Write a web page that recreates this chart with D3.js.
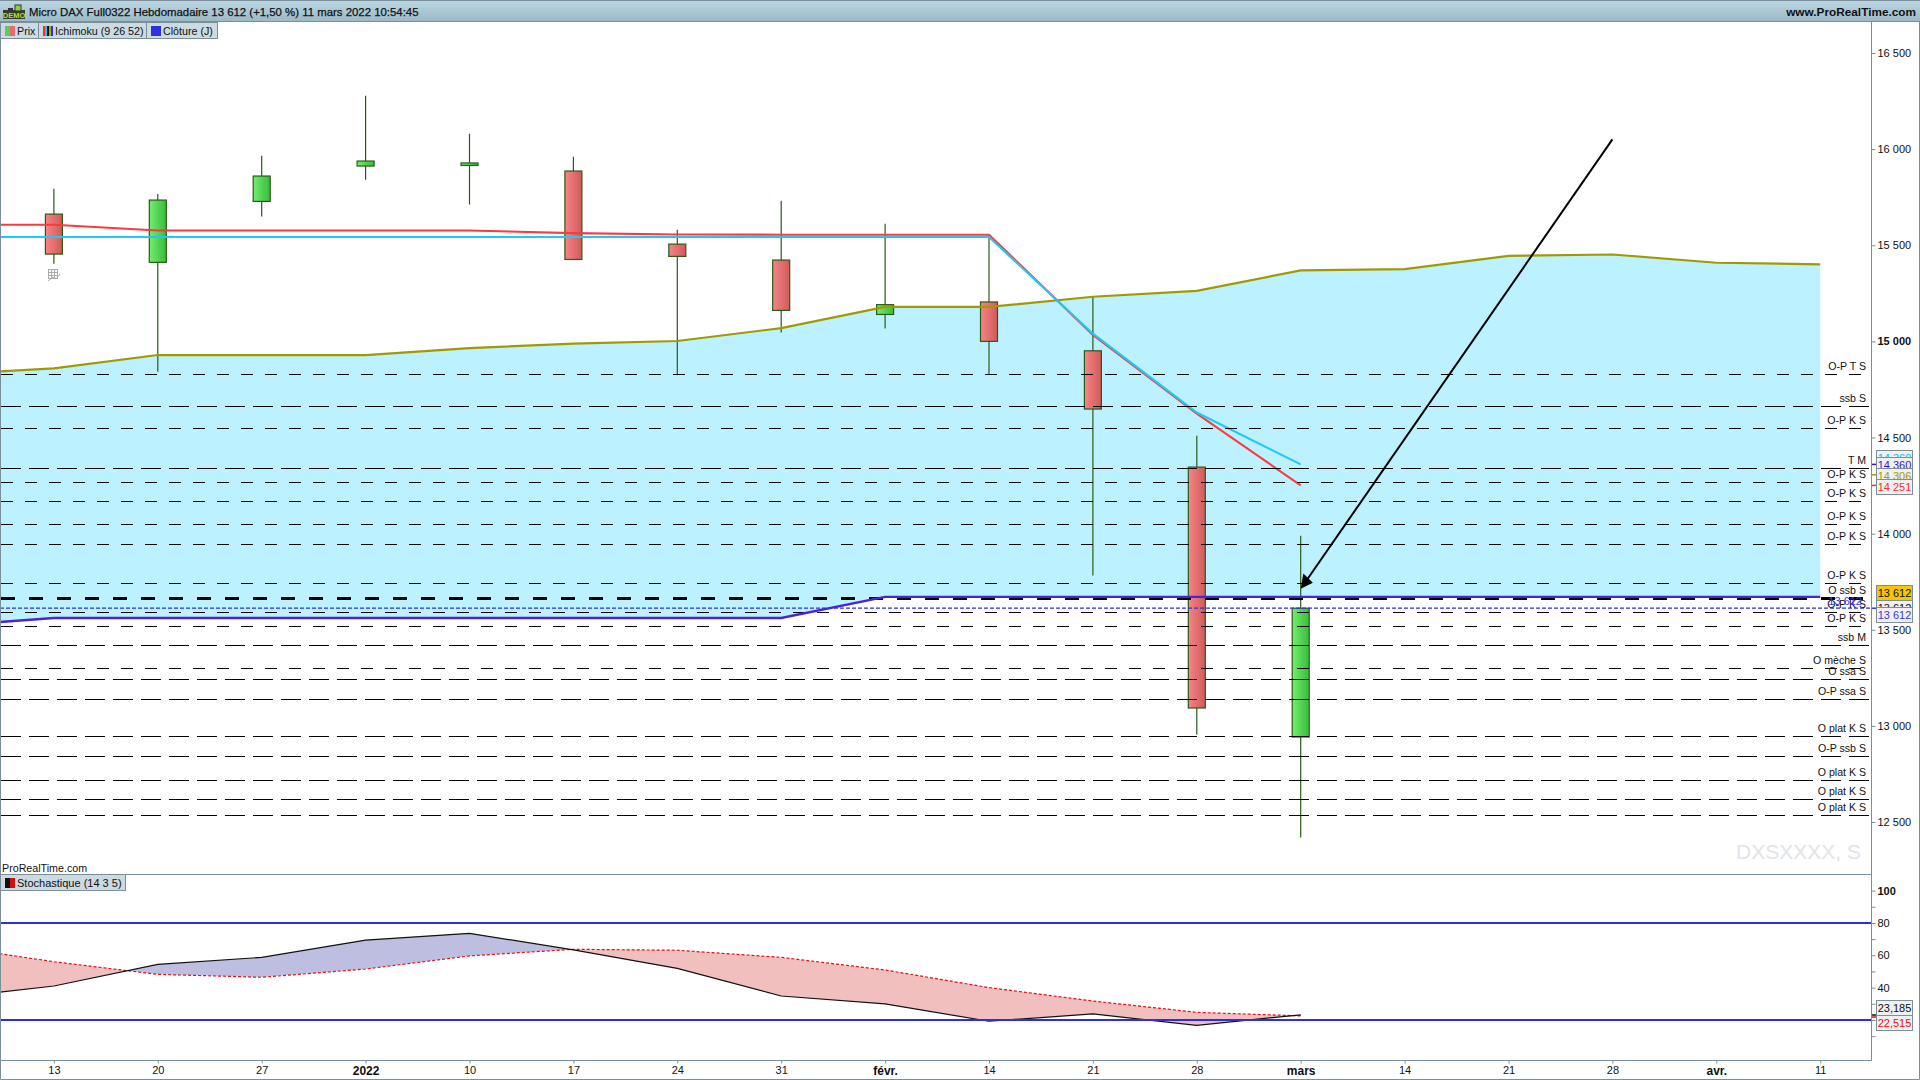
<!DOCTYPE html>
<html>
<head>
<meta charset="utf-8">
<title>Micro DAX Full0322</title>
<script src="https://cdn.jsdelivr.net/npm/d3@7/dist/d3.min.js"></script>
<style>
  html, body { margin: 0; padding: 0; background: #fff; overflow: hidden; }
  text { font-family: "Liberation Sans", Arial, sans-serif; }
</style>
</head>
<body>
<svg id="chart" width="1920" height="1080"></svg>
<script>
// weeks, the first one is off the left edge of the chart
const weeks = ['2021-12-06', '2021-12-13', '2021-12-20', '2021-12-27', '2022-01-03', '2022-01-10', '2022-01-17',
  '2022-01-24', '2022-01-31', '2022-02-07', '2022-02-14', '2022-02-21', '2022-02-28', '2022-03-07',
  '2022-03-14', '2022-03-21', '2022-03-28', '2022-04-04', '2022-04-11'];
const weekLabels = ['13', '20', '27', '2022', '10', '17', '24', '31', 'févr.', '14', '21', '28', 'mars', '14', '21', '28', 'avr.', '11'];
const boldLabels = ['2022', 'févr.', 'mars', 'avr.'];

// candles, 13 Dec to 7 Mar
const opens = [15662, 15411, 15728, 15912, 15915, 15886, 15506, 15423, 15140, 15205, 14951, 14346, 12942];
const highs = [15794, 15766, 15966, 16278, 16080, 15960, 15581, 15731, 15612, 15551, 15231, 14509, 13989];
const lows = [15404, 14842, 15650, 15841, 15712, 15426, 14828, 15046, 15067, 14828, 13782, 12955, 12420];
const closes = [15454, 15735, 15860, 15938, 15928, 15426, 15442, 15161, 15191, 15000, 14648, 13093, 13612];

// ichimoku
const tenkan = [15607, 15607, 15577, 15577, 15577, 15577, 15563, 15556, 15555, 15555, 15555, 15034, 14624, 14251];
const kijun = [15543, 15543, 15543, 15543, 15543, 15543, 15543, 15543, 15543, 15543, 15543, 15040, 14630, 14360];
const spanB = [14830, 14860, 14929, 14929, 14929, 14965, 14988, 15002, 15069, 15179, 15179, 15232, 15263, 15369, 15376, 15445, 15452, 15409, 15401];
const spanA = [13521, 13561, 13561, 13561, 13561, 13561, 13561, 13561, 13561, 13671, 13671, 13671, 13671, 13671, 13671, 13671, 13671, 13671, 13671];

// horizontal levels
const levelValues = [14832, 14664, 14551, 14341, 14268, 14169, 14050, 13947, 13743, 13665, 13592, 13521, 13422, 13299, 13244, 13140, 12947, 12843, 12718, 12619, 12536];
const levelLabels = ['O-P T S', 'ssb S', 'O-P K S', 'T M', 'O-P K S', 'O-P K S', 'O-P K S', 'O-P K S', 'O-P K S', 'O ssb S', 'O-P K S', 'O-P K S', 'ssb M', 'O mèche S', 'O ssa S', 'O-P ssa S', 'O plat K S', 'O-P ssb S', 'O plat K S', 'O plat K S', 'O plat K S'];
const lastClose = 13612;
const priceTicks = [12500, 13000, 13500, 14000, 14500, 15000, 15500, 16000, 16500];

// hand drawn arrow
const arrowWeeks = ['2022-03-28', '2022-03-07'];
const arrowPrices = [16051, 13713];

// stochastic
const stochK = [33.6, 41.0, 54.4, 58.7, 69.4, 73.6, 63.3, 51.9, 34.8, 29.9, 19.2, 23.7, 16.7, 23.185];
const stochD = [65.6, 56.0, 48.2, 46.4, 51.5, 59.6, 63.7, 63.1, 58.7, 50.9, 40.0, 31.7, 24.7, 22.515];
const stochBands = [80, 20];
const stochTicks = [10, 20, 30, 40, 50, 60, 70, 80, 90, 100];
const stochLabels = [40, 60, 80, 100];

const svg = d3.select('#chart');
const greyLine = '#7b8f9a';
const wickColor = '#2a5a18';

const x = d3.scalePoint().domain(weeks).range([-50, 1820.2]);
const y = d3.scaleLinear().domain([12500, 16500]).range([822, 53]);
const yStoch = d3.scaleLinear().domain([0, 100]).range([1052.3, 890.6]);

const fr = d3.formatLocale({ decimal: ',', thousands: ' ', grouping: [3], currency: ['', '€'] });
const priceFormat = fr.format(',d');

// gradients
const defs = svg.append('defs');
function gradient(id, vertical, from, to) {
  const g = defs.append('linearGradient').attr('id', id)
    .attr('x1', 0).attr('y1', 0).attr('x2', vertical ? 0 : 1).attr('y2', vertical ? 1 : 0);
  g.append('stop').attr('offset', 0).attr('stop-color', from);
  g.append('stop').attr('offset', 1).attr('stop-color', to);
}
gradient('titleGrad', true, '#bcd7e4', '#9cb9c6');
gradient('upGrad', false, '#72ee6e', '#38bb3c');
gradient('downGrad', false, '#f78585', '#cf5a5a');

defs.append('clipPath').attr('id', 'mainClip').append('rect')
  .attr('x', 0).attr('y', 22).attr('width', 1871).attr('height', 852);

// cloud
const main = svg.append('g').attr('clip-path', 'url(#mainClip)');
main.append('path')
  .datum(weeks)
  .attr('fill', '#bcf2ff')
  .attr('d', d3.area()
    .x(d => x(d))
    .y0((d, i) => y(spanA[i]))
    .y1((d, i) => y(spanB[i])));

// candles
const candles = main.append('g').selectAll('g')
  .data(opens.map((o, i) => ({ week: weeks[i + 1], open: o, high: highs[i], low: lows[i], close: closes[i] })))
  .join('g');
candles.append('line')
  .attr('x1', d => x(d.week)).attr('x2', d => x(d.week))
  .attr('y1', d => y(d.high)).attr('y2', d => y(d.low))
  .attr('stroke', wickColor).attr('stroke-width', 1.2);
candles.append('rect')
  .attr('x', d => x(d.week) - 8.5)
  .attr('width', 17)
  .attr('y', d => y(Math.max(d.open, d.close)))
  .attr('height', d => Math.abs(y(d.open) - y(d.close)))
  .attr('fill', d => d.close >= d.open ? 'url(#upGrad)' : 'url(#downGrad)')
  .attr('stroke', wickColor).attr('stroke-width', 1.2);

// ichimoku lines
function priceLine(values, color, width) {
  main.append('path')
    .datum(values)
    .attr('fill', 'none')
    .attr('stroke', color)
    .attr('stroke-width', width)
    .attr('d', d3.line().x((d, i) => x(weeks[i])).y(d => y(d)));
}
priceLine(spanB, '#a09a00', 2.2);
priceLine(tenkan, '#fb3a3f', 2.1);
priceLine(kijun, '#22c8f4', 2.1);

// levels, dashes go over the candles
function isShort(label) { return /O-P [TK]|mèche/.test(label); }
main.append('g').selectAll('line')
  .data(levelValues)
  .join('line')
  .attr('x1', 1).attr('x2', 1869)
  .attr('y1', d => Math.round(y(d)) + 0.5).attr('y2', d => Math.round(y(d)) + 0.5)
  .attr('stroke', '#000')
  .attr('stroke-width', (d, i) => levelLabels[i] === 'O ssb S' ? 3 : 1)
  .attr('stroke-dasharray', (d, i) => levelLabels[i] === 'O ssb S' ? '14,14' : (isShort(levelLabels[i]) ? '12,12' : '20,8'))
  .attr('shape-rendering', 'crispEdges');

priceLine(spanA, '#4a22d8', 2.4);

// last close, dotted
main.append('line')
  .attr('x1', 0).attr('x2', 1872)
  .attr('y1', y(lastClose)).attr('y2', y(lastClose))
  .attr('stroke', '#3030e0').attr('stroke-width', 1.2).attr('stroke-dasharray', '4,2');

// arrow
const tipX = x(arrowWeeks[1]), tipY = y(arrowPrices[1]);
const angle = Math.atan2(y(arrowPrices[0]) - tipY, x(arrowWeeks[0]) - tipX);
main.append('line')
  .attr('x1', x(arrowWeeks[0])).attr('y1', y(arrowPrices[0]))
  .attr('x2', tipX + 8 * Math.cos(angle)).attr('y2', tipY + 8 * Math.sin(angle))
  .attr('stroke', '#000').attr('stroke-width', 2);
main.append('path')
  .attr('transform', `translate(${tipX},${tipY}) rotate(${angle * 180 / Math.PI})`)
  .attr('d', 'M0,0L14,-6.5L12,6.5Z')
  .attr('fill', '#000');

// level labels
main.append('g').selectAll('text')
  .data(levelLabels)
  .join('text')
  .attr('x', 1866)
  .attr('y', (d, i) => y(levelValues[i]) - 4)
  .attr('text-anchor', 'end')
  .attr('font-size', 10.6)
  .attr('fill', '#111')
  .text(d => d);
main.append('text')
  .attr('x', 1862).attr('y', y(lastClose) - 3)
  .attr('text-anchor', 'end').attr('font-size', 11).attr('fill', '#3a3ae0')
  .text(priceFormat(lastClose));

// watermark and small texts
svg.append('text').attr('x', 1861).attr('y', 859).attr('text-anchor', 'end')
  .attr('font-size', 21).attr('fill', '#e1e4ec').text('DXSXXXX, S');
svg.append('text').attr('x', 2).attr('y', 872).attr('font-size', 10.7).attr('fill', '#111').text('ProRealTime.com');

// calendar icon under the first candle
const icon = svg.append('g').attr('transform', 'translate(48,268)')
  .attr('fill', 'none').attr('stroke', '#aaa').attr('stroke-width', 1);
icon.append('rect').attr('x', 0.5).attr('y', 1.5).attr('width', 9).attr('height', 9);
icon.append('path').attr('d', 'M0.5,4.5H9.5M0.5,7.5H9.5M3.5,1.5V10.5M6.5,1.5V10.5M0,13L5,9L8,11L12,6');

// stochastic panel
svg.append('line').attr('x1', 0).attr('x2', 1871).attr('y1', 874.5).attr('y2', 874.5).attr('stroke', greyLine);
const kArea = d3.area().x((d, i) => x(weeks[i])).y0((d, i) => yStoch(stochD[i])).y1(d => yStoch(d));
defs.append('clipPath').attr('id', 'aboveD').append('path').datum(stochD)
  .attr('d', d3.area().x((d, i) => x(weeks[i])).y0(875).y1(d => yStoch(d)));
defs.append('clipPath').attr('id', 'belowD').append('path').datum(stochD)
  .attr('d', d3.area().x((d, i) => x(weeks[i])).y0(1060).y1(d => yStoch(d)));
svg.append('path').datum(stochK).attr('d', kArea).attr('fill', '#bebfe0').attr('clip-path', 'url(#aboveD)');
svg.append('path').datum(stochK).attr('d', kArea).attr('fill', '#f2bfbf').attr('clip-path', 'url(#belowD)');
svg.append('path').datum(stochD).attr('fill', 'none').attr('stroke', '#e01010').attr('stroke-width', 1.2)
  .attr('stroke-dasharray', '3,2')
  .attr('d', d3.line().x((d, i) => x(weeks[i])).y(d => yStoch(d)));
svg.append('path').datum(stochK).attr('fill', 'none').attr('stroke', '#111').attr('stroke-width', 1.2)
  .attr('d', d3.line().x((d, i) => x(weeks[i])).y(d => yStoch(d)));
svg.append('g').selectAll('line').data(stochBands).join('line')
  .attr('x1', 0).attr('x2', 1871)
  .attr('y1', d => yStoch(d)).attr('y2', d => yStoch(d))
  .attr('stroke', '#2e2edc').attr('stroke-width', 2);

// axes
const priceAxis = svg.append('g').attr('transform', 'translate(1871.5,0)')
  .call(d3.axisRight(y).tickValues(priceTicks).tickSize(4).tickPadding(2).tickFormat(priceFormat));
const stochAxis = svg.append('g').attr('transform', 'translate(1871.5,0)')
  .call(d3.axisRight(yStoch).tickValues(stochTicks).tickSize(4).tickPadding(2)
    .tickFormat(d => stochLabels.includes(d) ? d : ''));
const timeAxis = svg.append('g').attr('transform', 'translate(0,1060.5)')
  .call(d3.axisBottom(x).tickValues(weeks.slice(1)).tickSize(3).tickPadding(3)
    .tickFormat((d, i) => weekLabels[i]));
[priceAxis, stochAxis, timeAxis].forEach(a => {
  a.select('.domain').remove();
  a.selectAll('line').attr('stroke', greyLine);
  a.selectAll('text').attr('fill', '#111').attr('font-size', 11)
    .style('font-family', '"Liberation Sans", Arial, sans-serif');
});
priceAxis.selectAll('text').filter(d => d === 15000).attr('font-weight', 'bold');
stochAxis.selectAll('text').filter(d => d === 100).attr('font-weight', 'bold');
timeAxis.selectAll('text').filter((d, i) => boldLabels.includes(weekLabels[i])).attr('font-weight', 'bold').attr('font-size', 12);

// frame
svg.append('path').attr('fill', 'none').attr('stroke', greyLine)
  .attr('d', 'M0.5,21V1079.5H1919.5V21M1871.5,21V1060.5H0.5');

// price tags
function tag(top, text, color, bg, markY) {
  if (markY !== undefined) {
    svg.append('line').attr('x1', 1872).attr('x2', 1876).attr('y1', markY).attr('y2', markY).attr('stroke', color).attr('stroke-width', 1.5);
  }
  svg.append('rect').attr('x', 1876.5).attr('y', top + 0.5).attr('width', 36).attr('height', 15)
    .attr('fill', bg).attr('stroke', greyLine);
  svg.append('text').attr('x', 1894.5).attr('y', top + 12).attr('text-anchor', 'middle')
    .attr('font-size', 11).attr('fill', color).text(text);
}
tag(450, priceFormat(kijun[13]), '#18b8f0', '#f0f0f0');
tag(457, '14 360', '#3a14cc', '#f0f0f0', y(kijun[13]));
tag(468, '14 306', '#a09a00', '#f0f0f0', y(14306));
tag(479, priceFormat(tenkan[13]), '#f03030', '#f0f0f0', y(tenkan[13]));
tag(600, priceFormat(lastClose), '#111', '#f0f0f0');
tag(585, priceFormat(lastClose), '#111', '#f7c400');
tag(607, priceFormat(lastClose), '#3a3ae0', '#f0f0f0', y(lastClose));
tag(1000, '23,185', '#111', '#f0f0f0');
tag(1015, '22,515', '#e01010', '#f0f0f0');
svg.append('line').attr('x1', 1872).attr('x2', 1876).attr('y1', 1015).attr('y2', 1015).attr('stroke', '#111').attr('stroke-width', 1.5);
svg.append('line').attr('x1', 1872).attr('x2', 1876).attr('y1', 1017).attr('y2', 1017).attr('stroke', '#e01010').attr('stroke-width', 1.5);

// title bar
svg.append('rect').attr('x', 0).attr('y', 0).attr('width', 1920).attr('height', 21).attr('fill', 'url(#titleGrad)');
svg.append('path').attr('d', 'M0,0.5H1920M0,21.5H1920').attr('stroke', greyLine).attr('fill', 'none');
svg.append('text').attr('x', 29).attr('y', 16).attr('font-size', 11.4).attr('fill', '#111')
  .attr('stroke', '#111').attr('stroke-width', 0.25)
  .text('Micro DAX Full0322 Hebdomadaire 13 612 (+1,50 %) 11 mars 2022 10:54:45');
svg.append('text').attr('x', 1916).attr('y', 16).attr('text-anchor', 'end').attr('font-size', 11.8)
  .attr('font-weight', 'bold').attr('fill', '#111').text('www.ProRealTime.com');

// demo badge
const badge = svg.append('g');
badge.append('rect').attr('x', 3).attr('y', 10).attr('width', 22).attr('height', 9).attr('fill', '#3a3a2a');
badge.append('rect').attr('x', 15).attr('y', 5).attr('width', 6).attr('height', 6).attr('fill', '#8fd13a').attr('stroke', '#333');
badge.append('rect').attr('x', 8).attr('y', 8).attr('width', 5).attr('height', 3).attr('fill', '#333');
badge.append('text').attr('x', 14).attr('y', 18).attr('text-anchor', 'middle').attr('font-size', 7.5).attr('font-weight', 'bold').attr('fill', '#a8e23c').text('DEMO');

// legend buttons
function button(bx, by, w, label, swatchColors, size) {
  svg.append('rect').attr('x', bx + 0.5).attr('y', by + 0.5).attr('width', w).attr('height', 16)
    .attr('fill', '#ccdae1').attr('stroke', greyLine);
  const sw = 10 / swatchColors.length;
  swatchColors.forEach((c, i) => {
    svg.append('rect').attr('x', bx + 5 + i * sw).attr('y', by + 4).attr('width', sw).attr('height', 10).attr('fill', c);
  });
  svg.append('text').attr('x', bx + 17).attr('y', by + 13).attr('font-size', size).attr('fill', '#111').text(label);
}
button(0, 22, 38, 'Prix', ['#5ecb5e', '#e86a6a'], 10.7);
button(38, 22, 108, 'Ichimoku (9 26 52)', ['#f03030', '#20c0f0', '#111', '#b0a800', '#3030e0'], 10.7);
button(146, 22, 71, 'Clôture (J)', ['#3030e0'], 10.7);
button(0, 874, 125, 'Stochastique (14 3 5)', ['#111', '#d01010'], 11);
</script>
</body>
</html>
